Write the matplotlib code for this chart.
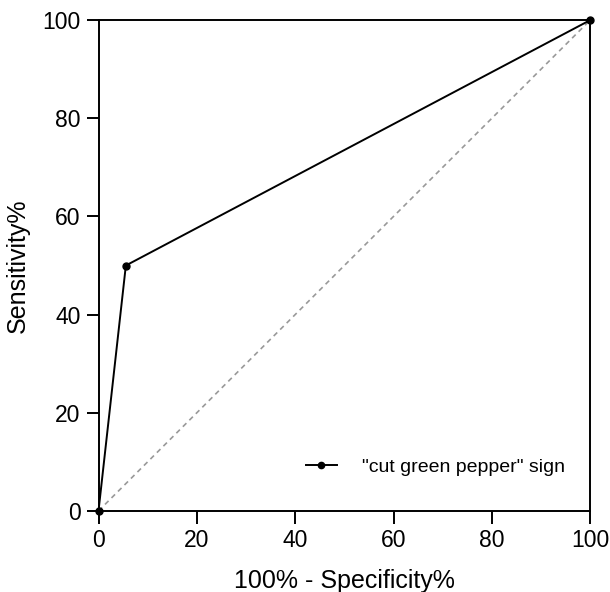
import matplotlib
matplotlib.use('Agg')
import matplotlib.pyplot as plt

plt.rcParams['font.family'] = ['Liberation Sans', 'DejaVu Sans']

# ROC data
fpr = [0.0, 5.56, 100.0]
tpr = [0.0, 50.0, 100.0]
ref_line = [0.0, 100.0]
ticks = [0, 20, 40, 60, 80, 100]
series_label = '"cut green pepper" sign'

fig = plt.figure(figsize=(6.1, 5.92), dpi=100)
ax = fig.add_axes([0.1615, 0.137, 0.806, 0.829])

ax.plot(ref_line, ref_line, linestyle=(0, (3, 2.5)), color='#999999', lw=1.2, zorder=1)
ax.plot(fpr, tpr, color='black', lw=1.4, marker='o', markersize=5, label=series_label, zorder=3, clip_on=False)

ax.set_xlim(0, 100)
ax.set_ylim(0, 100)
ax.set_xticks(ticks)
ax.set_yticks(ticks)
ax.tick_params(direction='out', length=9, width=1.4, labelsize=16.5, pad=4)
for s in ax.spines.values():
	s.set_linewidth(1.4)

ax.set_xlabel('100% - Specificity%', fontsize=18, labelpad=12)
ax.set_ylabel('Sensitivity%', fontsize=18, labelpad=9)

leg = ax.legend(loc='lower right', bbox_to_anchor=(0.985, 0.035), frameon=False, fontsize=14,
	handlelength=1.6, handletextpad=1.3, markerscale=0.9)

fig.savefig('out.png', dpi=100)
